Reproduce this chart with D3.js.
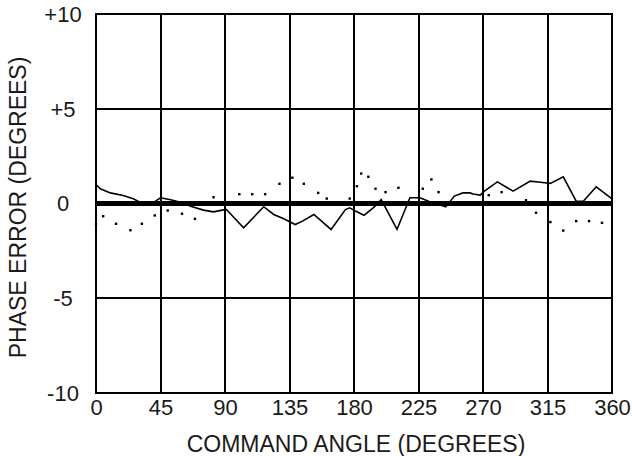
<!DOCTYPE html>
<html>
<head>
<meta charset="utf-8">
<script src="https://cdn.jsdelivr.net/npm/d3@7"></script>
<style>
  body { margin: 0; background: #fff; }
  svg { display: block; }
  text { font-family: "Liberation Sans", Arial, sans-serif; fill: #1a1a1a; }
  .grid line { stroke: #000; stroke-width: 2; shape-rendering: crispEdges; }
</style>
</head>
<body>
<svg id="chart" width="632" height="456"></svg>
<script>
// tick values
const xTicks = [0, 45, 90, 135, 180, 225, 270, 315, 360];
const yTicks = [-10, -5, 0, 5, 10];

// solid trace: command angle (deg) vs phase error (deg)
const lineAngle = [0, 3, 10, 19, 26, 30, 40, 45, 52, 59, 66, 75, 82, 88, 91, 103, 117, 124, 131, 139, 144, 152, 164, 174, 177, 181, 187, 194, 199, 210, 219, 223, 226, 232, 244, 250, 256, 261, 263, 268, 271, 280, 287, 291, 303, 310, 317, 326, 335, 340, 349, 360];
const lineError = [1.0, 0.78, 0.56, 0.42, 0.25, 0.09, 0.05, 0.3, 0.2, 0.07, -0.14, -0.35, -0.44, -0.35, -0.32, -1.28, -0.17, -0.58, -0.81, -1.11, -0.93, -0.58, -1.37, -0.32, -0.23, -0.4, -0.62, -0.19, 0.21, -1.37, 0.3, 0.3, 0.3, 0.12, -0.18, 0.39, 0.56, 0.56, 0.5, 0.44, 0.65, 1.14, 0.83, 0.65, 1.18, 1.12, 1.06, 1.41, 0.12, 0.12, 0.88, 0.25];

// dotted trace
const dotAngle = [0, 5, 14, 24, 32, 41, 50, 60, 69, 82, 100, 109, 118, 128, 137, 145, 155, 161, 177, 182, 185, 190, 195, 202, 211, 228, 234, 239, 274, 283, 300, 307, 317, 326, 335, 344, 353];
const dotError = [-1.1, -0.67, -1.07, -1.41, -1.07, -0.63, -0.37, -0.54, -0.81, 0.33, 0.49, 0.49, 0.49, 1.04, 1.36, 1.04, 0.56, 0.26, 0.26, 0.91, 1.58, 1.41, 0.78, 0.6, 0.83, 0.78, 1.27, 0.6, 0.44, 0.6, 0.17, -0.49, -0.98, -1.43, -0.93, -0.93, -1.02];

const margin = { top: 14, right: 20, bottom: 63, left: 96 };
const W = 632, H = 456;

const x = d3.scaleLinear().domain([0, 360]).range([margin.left, W - margin.right]);
const y = d3.scaleLinear().domain([-10, 10]).range([H - margin.bottom, margin.top]);

const svg = d3.select("#chart");

// grid
const grid = svg.append("g").attr("class", "grid");
grid.selectAll(".vx")
  .data(xTicks.slice(1, -1))
  .join("line")
  .attr("x1", d => x(d)).attr("x2", d => x(d))
  .attr("y1", y(10)).attr("y2", y(-10));
grid.selectAll(".hy")
  .data([-5, 5])
  .join("line")
  .attr("x1", x(0)).attr("x2", x(360))
  .attr("y1", d => y(d)).attr("y2", d => y(d));

// frame
svg.append("rect")
  .attr("x", x(0)).attr("y", y(10))
  .attr("width", x(360) - x(0)).attr("height", y(-10) - y(10))
  .attr("fill", "none").attr("stroke", "#000").attr("stroke-width", 2)
  .attr("shape-rendering", "crispEdges");

// zero reference
svg.append("line")
  .attr("x1", x(0)).attr("x2", x(360))
  .attr("y1", y(0)).attr("y2", y(0))
  .attr("stroke", "#000").attr("stroke-width", 5);

// solid trace
const lineData = lineAngle.map((a, i) => [a, lineError[i]]);
svg.append("path")
  .datum(lineData)
  .attr("fill", "none")
  .attr("stroke", "#000")
  .attr("stroke-width", 1.6)
  .attr("d", d3.line().x(d => x(d[0])).y(d => y(d[1])));

// dotted trace
svg.selectAll(".dot")
  .data(dotAngle.map((a, i) => [a, dotError[i]]))
  .join("rect")
  .attr("class", "dot")
  .attr("x", d => x(d[0]) - 1.2)
  .attr("y", d => y(d[1]) - 1.2)
  .attr("width", 2.4).attr("height", 2.4)
  .attr("fill", "#000");

// x tick labels
const xAxis = d3.axisBottom(x).tickValues(xTicks).tickSize(0).tickPadding(0);
const gx = svg.append("g")
  .attr("transform", "translate(0," + (y(-10) + 22) + ")")
  .call(xAxis);
gx.select(".domain").remove();
gx.selectAll("text").attr("font-size", 22).attr("dy", 0).attr("fill", "#1a1a1a");
gx.attr("font-family", null);

// y tick labels
svg.selectAll(".ylab")
  .data(yTicks)
  .join("text")
  .attr("class", "ylab")
  .attr("x", 63)
  .attr("y", d => y(d))
  .attr("dy", "0.36em")
  .attr("text-anchor", "middle")
  .attr("font-size", 22)
  .text(d => d > 0 ? "+" + d : String(d));

// axis titles
svg.append("text")
  .attr("x", (x(0) + x(360)) / 2 + 2)
  .attr("y", 452)
  .attr("text-anchor", "middle")
  .attr("font-size", 23)
  .text("COMMAND ANGLE (DEGREES)");

svg.append("text")
  .attr("transform", "translate(26," + (y(0) + 4) + ") rotate(-90)")
  .attr("text-anchor", "middle")
  .attr("font-size", 23)
  .text("PHASE ERROR (DEGREES)");
</script>
</body>
</html>
